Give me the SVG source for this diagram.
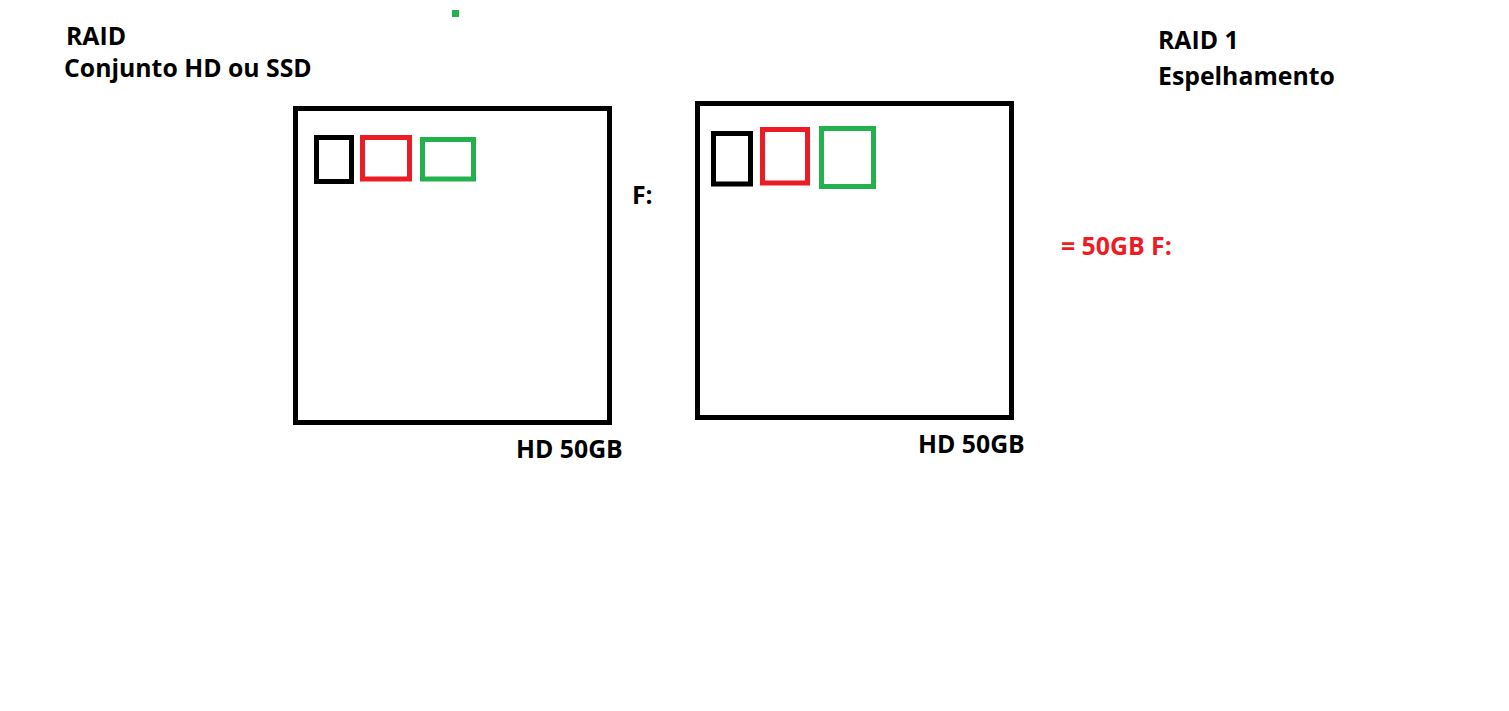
<svg xmlns="http://www.w3.org/2000/svg" width="1509" height="711" viewBox="0 0 1509 711">
<style>
.t{font-family:"Open Sans","Noto Sans","Liberation Sans",sans-serif;font-weight:bold;font-size:24.8px;fill:#000}
.r{fill:#ED1C24}
.box{fill:none;stroke:#000;stroke-width:5}
.k{fill:none;stroke:#000;stroke-width:5}
.rd{fill:none;stroke:#ED1C24;stroke-width:5}
.gr{fill:none;stroke:#22B14C;stroke-width:5}
</style>
<rect width="1509" height="711" fill="#fff"/>
<rect x="452" y="10" width="7" height="7" fill="#22B14C"/>
<g id="title-left">
<text class="t" x="66" y="45">RAID</text>
<text class="t" x="64" y="77">Conjunto HD ou SSD</text>
</g>
<g id="title-right">
<text class="t" x="1158" y="49">RAID 1</text>
<text class="t" x="1158" y="85">Espelhamento</text>
</g>
<g id="hd1">
<rect class="box" x="295.5" y="108.5" width="314" height="314"/>
<rect class="k" x="316.5" y="137.5" width="35" height="44"/>
<rect class="rd" x="362.5" y="137.5" width="47" height="41.5"/>
<rect class="gr" x="422.5" y="139.5" width="51" height="39.5"/>
<text class="t" x="516" y="458">HD 50GB</text>
</g>
<g id="hd2">
<rect class="box" x="697.5" y="103.5" width="314" height="314"/>
<rect class="k" x="713.5" y="133.5" width="37" height="50.5"/>
<rect class="rd" x="762.5" y="129.5" width="45" height="53.5"/>
<rect class="gr" x="821.5" y="128.5" width="52" height="58"/>
<text class="t" x="918" y="453">HD 50GB</text>
</g>
<g id="drive-letter">
<text class="t" x="632" y="204">F:</text>
</g>
<g id="result">
<text class="t r" x="1061" y="255">= 50GB F:</text>
</g>
<g id="connectors"></g>
</svg>
